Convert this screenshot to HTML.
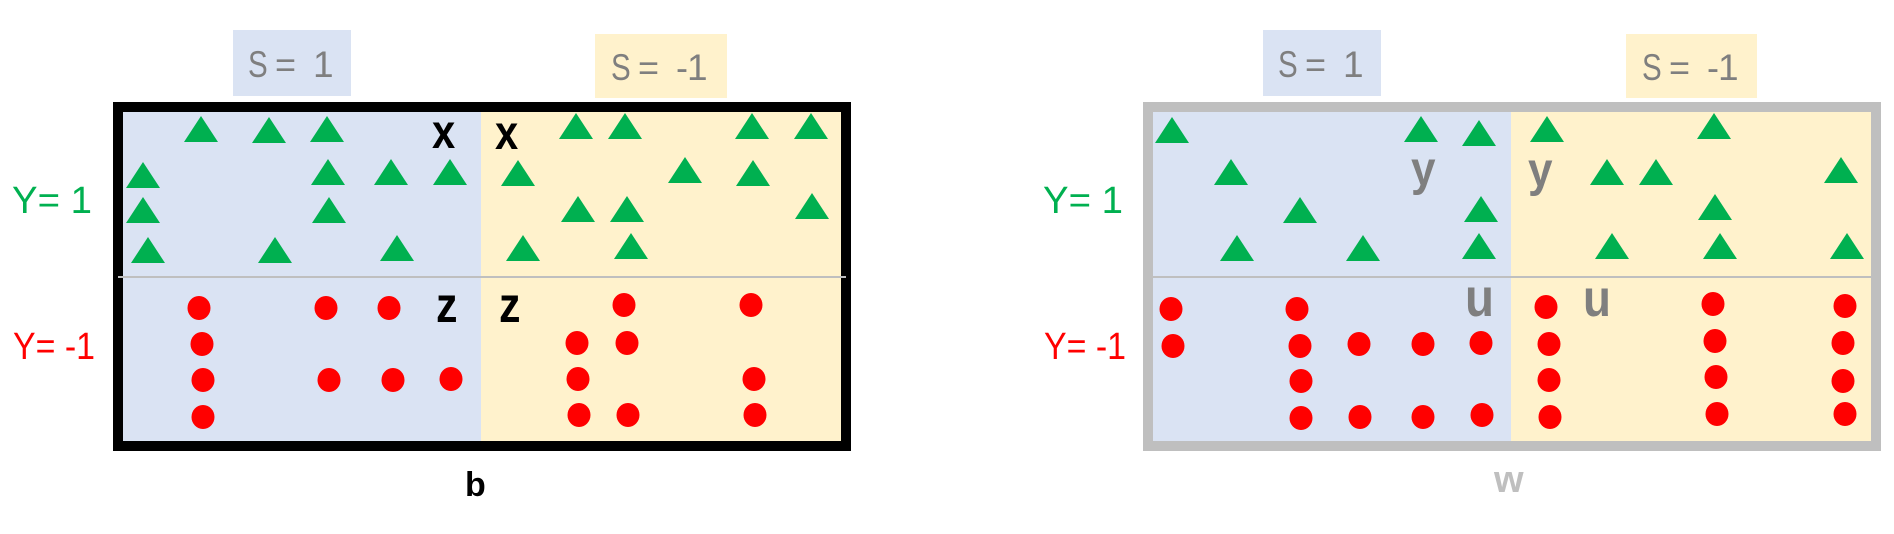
<!DOCTYPE html>
<html>
<head>
<meta charset="utf-8">
<style>
html,body{margin:0;padding:0;background:#fff;}
svg{display:block;}
text{font-family:"Liberation Sans",sans-serif;}
</style>
</head>
<body>
<svg width="1894" height="534" viewBox="0 0 1894 534" xmlns="http://www.w3.org/2000/svg">
<defs>
<polygon id="t" points="-17,26 0,0 17,26" fill="#00b050"/>
<ellipse id="d" cx="0" cy="0" rx="11.5" ry="12" fill="#ff0000"/>
</defs>

<!-- ===== LEFT PANEL ===== -->
<rect x="233" y="30" width="118" height="66" fill="#dae3f3"/>
<rect x="595" y="34" width="132" height="64" fill="#fff2cc"/>
<text transform="translate(248,77) scale(0.82,1.04)" font-size="36" fill="#7f7f7f">S</text>
<text x="275" y="77" font-size="36" fill="#7f7f7f">=</text>
<text x="313" y="77" font-size="37" fill="#7f7f7f">1</text>
<text transform="translate(611,80) scale(0.82,1.04)" font-size="36" fill="#7f7f7f">S</text>
<text x="638" y="80" font-size="36" fill="#7f7f7f">=</text>
<text x="676" y="80" font-size="36" fill="#7f7f7f">-</text>
<text x="687" y="80" font-size="37" fill="#7f7f7f">1</text>

<text x="12" y="213" font-size="38" fill="#00b050" textLength="80" lengthAdjust="spacingAndGlyphs">Y=  1</text>
<text x="13" y="359" font-size="38" fill="#ff0000" textLength="82" lengthAdjust="spacingAndGlyphs">Y= -1</text>

<rect x="118" y="107" width="728" height="339" fill="none" stroke="#000" stroke-width="10"/>
<rect x="123" y="112" width="358" height="329" fill="#dae3f3"/>
<rect x="481" y="112" width="360" height="329" fill="#fff2cc"/>
<rect x="118" y="276" width="728" height="2" fill="#bfbfbf"/>

<use href="#t" x="201" y="116"/><use href="#t" x="269" y="117"/><use href="#t" x="327" y="116"/>
<use href="#t" x="143" y="162"/><use href="#t" x="328" y="159"/><use href="#t" x="391" y="159"/><use href="#t" x="450" y="159"/>
<use href="#t" x="143" y="197"/><use href="#t" x="329" y="197"/>
<use href="#t" x="148" y="237"/><use href="#t" x="275" y="237"/><use href="#t" x="397" y="235"/>
<use href="#t" x="576" y="113"/><use href="#t" x="625" y="113"/><use href="#t" x="752" y="113"/><use href="#t" x="811" y="113"/>
<use href="#t" x="518" y="160"/><use href="#t" x="685" y="157"/><use href="#t" x="753" y="160"/>
<use href="#t" x="578" y="196"/><use href="#t" x="627" y="196"/><use href="#t" x="812" y="193"/>
<use href="#t" x="523" y="235"/><use href="#t" x="631" y="233"/>

<use href="#d" x="199" y="308"/><use href="#d" x="326" y="308"/><use href="#d" x="389" y="308"/><use href="#d" x="624" y="305"/><use href="#d" x="751" y="305"/>
<use href="#d" x="202" y="344"/><use href="#d" x="577" y="343"/><use href="#d" x="627" y="343"/>
<use href="#d" x="203" y="380"/><use href="#d" x="329" y="380"/><use href="#d" x="393" y="380"/><use href="#d" x="451" y="379"/><use href="#d" x="578" y="379"/><use href="#d" x="754" y="379"/>
<use href="#d" x="203" y="417"/><use href="#d" x="579" y="415"/><use href="#d" x="628" y="415"/><use href="#d" x="755" y="415"/>

<text transform="translate(432,148) scale(0.87,1)" font-size="48" font-weight="bold" fill="#000">x</text>
<text transform="translate(495,149) scale(0.87,1)" font-size="48" font-weight="bold" fill="#000">x</text>
<text transform="translate(436,322) scale(0.86,1)" font-size="50" font-weight="bold" fill="#000">z</text>
<text transform="translate(499,322) scale(0.86,1)" font-size="50" font-weight="bold" fill="#000">z</text>

<text x="465" y="496" font-size="34" font-weight="bold" fill="#000">b</text>

<!-- ===== RIGHT PANEL ===== -->
<rect x="1263" y="30" width="118" height="66" fill="#dae3f3"/>
<rect x="1626" y="34" width="131" height="64" fill="#fff2cc"/>
<text transform="translate(1278,77) scale(0.82,1.04)" font-size="36" fill="#7f7f7f">S</text>
<text x="1305" y="77" font-size="36" fill="#7f7f7f">=</text>
<text x="1343" y="77" font-size="37" fill="#7f7f7f">1</text>
<text transform="translate(1642,80) scale(0.82,1.04)" font-size="36" fill="#7f7f7f">S</text>
<text x="1669" y="80" font-size="36" fill="#7f7f7f">=</text>
<text x="1707" y="80" font-size="36" fill="#7f7f7f">-</text>
<text x="1718" y="80" font-size="37" fill="#7f7f7f">1</text>

<text x="1043" y="213" font-size="38" fill="#00b050" textLength="80" lengthAdjust="spacingAndGlyphs">Y=  1</text>
<text x="1044" y="359" font-size="38" fill="#ff0000" textLength="82" lengthAdjust="spacingAndGlyphs">Y= -1</text>

<rect x="1148" y="107" width="728" height="339" fill="none" stroke="#bfbfbf" stroke-width="10"/>
<rect x="1153" y="112" width="358" height="329" fill="#dae3f3"/>
<rect x="1511" y="112" width="360" height="329" fill="#fff2cc"/>
<rect x="1153" y="276" width="718" height="2" fill="#bfbfbf"/>

<use href="#t" x="1172" y="117"/><use href="#t" x="1421" y="116"/><use href="#t" x="1479" y="120"/><use href="#t" x="1547" y="116"/><use href="#t" x="1714" y="113"/>
<use href="#t" x="1231" y="159"/><use href="#t" x="1607" y="159"/><use href="#t" x="1656" y="159"/><use href="#t" x="1841" y="157"/>
<use href="#t" x="1300" y="197"/><use href="#t" x="1481" y="196"/><use href="#t" x="1715" y="194"/>
<use href="#t" x="1237" y="235"/><use href="#t" x="1363" y="235"/><use href="#t" x="1479" y="233"/><use href="#t" x="1612" y="233"/><use href="#t" x="1720" y="233"/><use href="#t" x="1847" y="233"/>

<use href="#d" x="1171" y="309"/><use href="#d" x="1297" y="309"/><use href="#d" x="1546" y="307"/><use href="#d" x="1713" y="304"/><use href="#d" x="1845" y="306"/>
<use href="#d" x="1173" y="346"/><use href="#d" x="1300" y="346"/><use href="#d" x="1359" y="344"/><use href="#d" x="1423" y="344"/><use href="#d" x="1481" y="343"/><use href="#d" x="1549" y="344"/><use href="#d" x="1715" y="341"/><use href="#d" x="1843" y="343"/>
<use href="#d" x="1301" y="381"/><use href="#d" x="1549" y="380"/><use href="#d" x="1716" y="377"/><use href="#d" x="1843" y="381"/>
<use href="#d" x="1301" y="418"/><use href="#d" x="1360" y="417"/><use href="#d" x="1423" y="417"/><use href="#d" x="1482" y="415"/><use href="#d" x="1550" y="417"/><use href="#d" x="1717" y="414"/><use href="#d" x="1845" y="414"/>

<text transform="translate(1411,185) scale(0.92,1)" font-size="48" font-weight="bold" fill="#7f7f7f">y</text>
<text transform="translate(1528,186) scale(0.92,1)" font-size="48" font-weight="bold" fill="#7f7f7f">y</text>
<text transform="translate(1465,316) scale(0.88,1)" font-size="54" font-weight="bold" fill="#7f7f7f">u</text>
<text transform="translate(1583,316) scale(0.88,1)" font-size="52" font-weight="bold" fill="#7f7f7f">u</text>

<text x="1494" y="492" font-size="38" font-weight="bold" fill="#bfbfbf">w</text>
</svg>
</body>
</html>
